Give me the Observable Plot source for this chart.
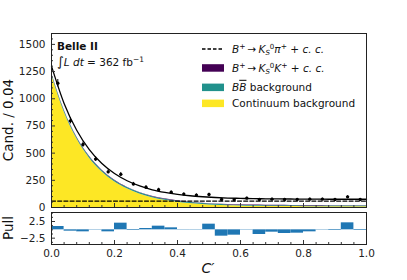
<!DOCTYPE html>
<html>
<head>
<meta charset="utf-8">
<script src="https://cdn.jsdelivr.net/npm/d3@7"></script>
<script src="https://cdn.jsdelivr.net/npm/@observablehq/plot@0.6"></script>
<style>
  body { margin: 0; background: #fff; }
  #wrap { position: relative; width: 407px; height: 280px; font-family: "DejaVu Sans", sans-serif; }
  #wrap svg { position: absolute; left: 0; overflow: visible; }
</style>
</head>
<body>
<div id="wrap"></div>
<script>
// ---- data ----
// bin centres (bin width 0.04) and observed candidates
const binCenters = [0.02,0.06,0.10,0.14,0.18,0.22,0.26,0.30,0.34,0.38,0.42,0.46,0.50,0.54,0.58,0.62,0.66,0.70,0.74,0.78,0.82,0.86,0.90,0.94,0.98];
const counts     = [1143,797,579,445,328,305,216,186,164,140,123,114,120,74,71,86,74,77,74,74,77,77,74,98,74];
const countErrs  = [34,28,24,21,18,17,15,14,13,12,11,11,11,9,8,9,9,9,9,9,9,9,9,10,9];
const pulls      = [1.0,-0.4,-0.6,-0.1,-0.6,2.0,-0.2,0.4,1.1,0.6,0.1,0.1,1.7,-1.9,-1.6,-0.1,-1.4,-0.7,-1.1,-1.0,-0.6,0.1,-0.2,2.1,-0.2];

// fit components sampled along C'
const curveX     = [0,0.04,0.08,0.12,0.16,0.20,0.24,0.28,0.32,0.36,0.40,0.44,0.48,0.52,0.56,0.60,0.64,0.68,0.72,0.76,0.80,0.84,0.88,0.92,0.96,1.00];
const continuum  = [1223,880,634,456,329,237,172,124,90,66,49,36,28,21,16,14,11,10,10,9,8,8,8,8,8,8];
const bbBkg      = [14,14,13,13,12,12,11,11,10,10,9,9,8,8,8,7,7,7,6,6,6,6,5,5,5,5];
const kskSignal  = [4,4,4,4,4,4,4,4,4,4,4,4,4,4,4,4,4,4,4,4,4,4,4,4,4,4];
const kpiSignal  = [59,59,59,59,59,59,59,59,59,59,59,59,59,59,59,59,59,59,59,59,59,59,59,59,59,59];

const yTicks     = [0,250,500,750,1000,1250,1500];
const xTicks     = [0,0.2,0.4,0.6,0.8,1.0];
const pullTicks  = [-2.5,2.5];

const colors = {ksk: "#440154", bb: "#21918c", cont: "#fde725"};

// ---- tables ----
const comp = curveX.map((x,i) => {
  const c = continuum[i], b = c + bbBkg[i], k = b + kskSignal[i];
  return {x, c, b, k, total: k + kpiSignal[i], kpi: kpiSignal[i]};
});
const pts = binCenters.map((x,i) => ({x, y: counts[i], e: countErrs[i]}));
const pullRows = binCenters.map((x,i) => ({x1: x-0.02, x2: x+0.02, p: pulls[i]}));

const W = 407, ML = 51, MR = 41;
const frameW = W - ML - MR;
const minorX = d3.range(0, 1.0001, 0.04).filter(v => Math.abs(v*5 - Math.round(v*5)) > 1e-6);
const minorY = d3.range(0, 1600, 50).filter(v => v % 250 !== 0);
const minorP = [-3.75,-1.25,0,1.25,3.75,5];

const mainH = 212, mainT = 33, mainB = 5;
const mainFrameH = mainH - mainT - mainB;

const main = Plot.plot({
  width: W, height: mainH,
  marginLeft: ML, marginRight: MR, marginTop: mainT, marginBottom: mainB,
  style: {fontFamily: "DejaVu Sans", fontSize: "10.5px", color: "#222", background: "transparent"},
  x: {domain: [0,1], axis: null},
  y: {domain: [0,1600], axis: null},
  marks: [
    Plot.areaY(comp, {x: "x", y1: 0, y2: "c", fill: colors.cont, curve: "monotone-x"}),
    Plot.areaY(comp, {x: "x", y1: "c", y2: "b", fill: colors.bb, curve: "monotone-x"}),
    Plot.areaY(comp, {x: "x", y1: "b", y2: "k", fill: colors.ksk, curve: "monotone-x"}),
    Plot.line(comp, {x: "x", y: "kpi", stroke: "#000", strokeWidth: 1.3, strokeDasharray: "4,2.2", curve: "monotone-x"}),
    Plot.line(comp, {x: "x", y: "total", stroke: "#000", strokeWidth: 1.3, curve: "monotone-x"}),
    Plot.ruleX(pts, {x: "x", y1: d => d.y - d.e, y2: d => d.y + d.e, stroke: "#000", strokeWidth: 1}),
    Plot.dot(pts, {x: "x", y: "y", r: 1.7, fill: "#000", stroke: "none"}),
    Plot.tickY(yTicks, {y: d => d, insetRight: frameW - 4, stroke: "#333"}),
    Plot.tickY(minorY, {y: d => d, insetRight: frameW - 2, stroke: "#333"}),
    Plot.tickX(xTicks, {x: d => d, insetTop: mainFrameH - 4, stroke: "#333"}),
    Plot.tickX(minorX, {x: d => d, insetTop: mainFrameH - 2, stroke: "#333"}),
    Plot.axisY(yTicks, {tickSize: 0, tickPadding: 6, fontSize: 10.5, label: null, tickFormat: d => String(d)}),
    Plot.frame({stroke: "#222", strokeWidth: 1})
  ]
});
main.style.top = "0px";

const pullH = 73, pullT = 5, pullB = 36;
const pullFrameH = pullH - pullT - pullB;
const pull = Plot.plot({
  width: W, height: pullH,
  marginLeft: ML, marginRight: MR, marginTop: pullT, marginBottom: pullB,
  style: {fontFamily: "DejaVu Sans", fontSize: "10.5px", color: "#222", background: "transparent"},
  x: {domain: [0,1], axis: null},
  y: {domain: [-4.4,5.2], axis: null},
  marks: [
    Plot.rectY(pullRows, {x1: "x1", x2: "x2", y1: 0, y2: "p", fill: "#1f77b4"}),
    Plot.tickY(pullTicks, {y: d => d, insetRight: frameW - 4, stroke: "#333"}),
    Plot.tickY(minorP, {y: d => d, insetRight: frameW - 2, stroke: "#333"}),
    Plot.tickX(xTicks, {x: d => d, insetTop: pullFrameH - 4, stroke: "#333"}),
    Plot.tickX(minorX, {x: d => d, insetTop: pullFrameH - 2, stroke: "#333"}),
    Plot.axisY(pullTicks, {tickSize: 0, tickPadding: 6, fontSize: 10.5, label: null, tickFormat: d => d < 0 ? "\u2212" + Math.abs(d).toFixed(1) : d.toFixed(1)}),
    Plot.axisX(xTicks, {tickSize: 0, tickPadding: 5, fontSize: 10.5, label: null, tickFormat: d => d.toFixed(1)}),
    Plot.frame({stroke: "#222", strokeWidth: 1})
  ]
});
pull.style.top = "207px";

const wrap = document.getElementById("wrap");
wrap.appendChild(main);
wrap.appendChild(pull);

// ---- annotations & legend ----
const ms = d3.select(main);
const g = ms.append("g").attr("font-family", "DejaVu Sans").attr("fill", "#111").attr("text-anchor", "start");
g.append("text").attr("x", 57).attr("y", 49.5).attr("font-size", 10.5).attr("font-weight", "bold").text("Belle II");
const lum = g.append("text").attr("x", 57).attr("y", 66).attr("font-size", 10.5);
lum.append("tspan").attr("font-size", 13).text("\u222B");
lum.append("tspan").attr("font-style", "italic").text("L");
lum.append("tspan").attr("font-style", "italic").text(" dt");
lum.append("tspan").text(" = 362 fb");
lum.append("tspan").attr("dy", -4).attr("font-size", 7.5).text("\u22121");

// legend
const lg = g.append("g");
lg.append("line").attr("x1", 202).attr("x2", 224).attr("y1", 49).attr("y2", 49)
  .attr("stroke", "#000").attr("stroke-width", 1.3).attr("stroke-dasharray", "3.5,2");
lg.append("rect").attr("x", 202).attr("y", 64.2).attr("width", 22).attr("height", 7.5).attr("fill", colors.ksk);
lg.append("rect").attr("x", 202).attr("y", 83.6).attr("width", 22).attr("height", 7.5).attr("fill", colors.bb);
lg.append("rect").attr("x", 202).attr("y", 99.6).attr("width", 22).attr("height", 7.5).attr("fill", colors.cont);

function decay(y, meson) {
  const t = lg.append("text").attr("x", 232).attr("y", y).attr("font-size", 10.5);
  t.append("tspan").attr("font-style", "italic").text("B");
  t.append("tspan").attr("dy", -4).attr("font-size", 7.5).text("+");
  t.append("tspan").attr("dy", 4).text("\u2009\u2192\u2009");
  t.append("tspan").attr("font-style", "italic").text("K");
  t.append("tspan").attr("dy", 2.5).attr("font-size", 7).attr("font-style", "italic").text("S");
  t.append("tspan").attr("dy", -6.5).attr("font-size", 7).text("0");
  t.append("tspan").attr("dy", 4).attr("font-style", "italic").text(meson);
  t.append("tspan").attr("dy", -4).attr("font-size", 7.5).text("+");
  t.append("tspan").attr("dy", 4).text(" + ");
  t.append("tspan").attr("font-style", "italic").text("c. c.");
}
decay(52.8, "\u03C0");
decay(71.8, "K");
const bbT = lg.append("text").attr("x", 232).attr("y", 90.8).attr("font-size", 10.5);
bbT.append("tspan").attr("font-style", "italic").text("B");
bbT.append("tspan").attr("font-style", "italic").attr("text-decoration", "overline").text("B");
bbT.append("tspan").text(" background");
lg.append("text").attr("x", 232).attr("y", 107.3).attr("font-size", 10.5).text("Continuum background");

// axis titles
g.append("text").attr("transform", "translate(13,120) rotate(-90)").attr("text-anchor", "middle")
  .attr("font-size", 13.5).text("Cand. / 0.04");
const ps = d3.select(pull);
ps.append("text").attr("transform", "translate(13,21) rotate(-90)").attr("text-anchor", "middle")
  .attr("font-family", "DejaVu Sans").attr("font-size", 13.5).attr("fill", "#111").text("Pull");
ps.append("text").attr("x", 208).attr("y", 66).attr("text-anchor", "middle")
  .attr("font-family", "DejaVu Sans").attr("font-size", 14).attr("font-style", "italic").attr("fill", "#111").text("C\u2032");
</script>
</body>
</html>
